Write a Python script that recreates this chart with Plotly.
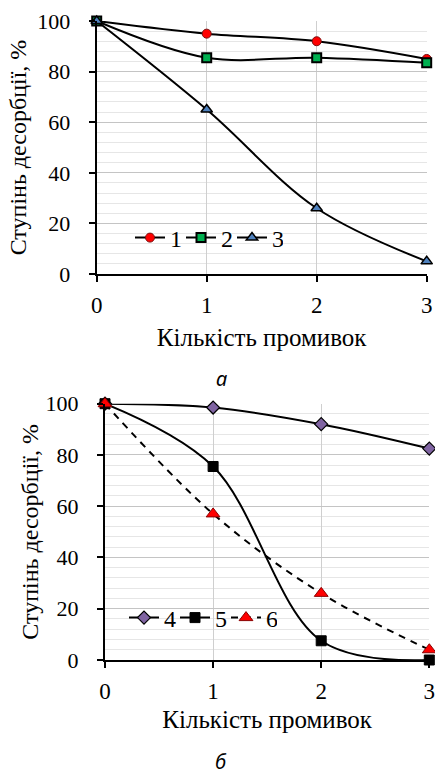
import plotly.graph_objects as go

washes = [0, 1, 2, 3]
x_ticks = ["0", "1", "2", "3"]
s1 = [100, 95, 92, 85]
s2 = [100, 85.5, 85.5, 83.5]
s3 = [100, 65, 26, 5]
s4 = [100, 98.5, 92, 82.5]
s5 = [100, 75.5, 7.5, 0]
s6 = [100, 57, 26, 4]

W, H = 435, 775
FONT = "Liberation Serif, Times New Roman, serif"


def px_x(p):
    return p / W


def px_y(p):
    return 1 - p / H


fig = go.Figure()

line = dict(color="black", width=2, shape="spline")

fig.add_trace(go.Scatter(x=washes, y=s1, name="1", mode="lines+markers", line=line,
                         marker=dict(symbol="circle", size=9, color="#ff0000", line=dict(color="#7a1010", width=1)),
                         xaxis="x", yaxis="y", legend="legend", cliponaxis=False))
fig.add_trace(go.Scatter(x=washes, y=s2, name="2", mode="lines+markers", line=line,
                         marker=dict(symbol="square", size=9, color="#00b050", line=dict(color="black", width=2)),
                         xaxis="x", yaxis="y", legend="legend", cliponaxis=False))
fig.add_trace(go.Scatter(x=washes, y=s3, name="3", mode="lines+markers", line=line,
                         marker=dict(symbol="triangle-up", size=10, color="#4f81bd", line=dict(color="black", width=1.5)),
                         xaxis="x", yaxis="y", legend="legend", cliponaxis=False))

fig.add_trace(go.Scatter(x=washes, y=s4, name="4", mode="lines+markers", line=line,
                         marker=dict(symbol="diamond", size=10, color="#8064a2", line=dict(color="black", width=1.2)),
                         xaxis="x2", yaxis="y2", legend="legend2", cliponaxis=False))
fig.add_trace(go.Scatter(x=washes, y=s5, name="5", mode="lines+markers", line=line,
                         marker=dict(symbol="square", size=10, color="black", line=dict(color="black", width=1)),
                         xaxis="x2", yaxis="y2", legend="legend2", cliponaxis=False))
fig.add_trace(go.Scatter(x=washes, y=s6, name="6", mode="lines+markers",
                         line=dict(color="black", width=2, shape="spline", dash="7px,6px"),
                         marker=dict(symbol="triangle-up", size=12, color="#ff0000", line=dict(color="#8a0000", width=1)),
                         xaxis="x2", yaxis="y2", legend="legend2", cliponaxis=False))

xcommon = dict(range=[0, 3], tickvals=washes, ticktext=x_ticks, showline=True, linecolor="black", linewidth=2,
               ticks="outside", ticklen=6, tickwidth=2, tickcolor="black", ticklabelstandoff=3,
               ticklabeloverflow="allow",
               showgrid=True, gridcolor="#cfcfcf", gridwidth=1, zeroline=False,
               tickfont=dict(family=FONT, size=23, color="black"), automargin=False, fixedrange=True)
ycommon = dict(range=[0, 100], dtick=20, showline=True, linecolor="black", linewidth=2,
               ticks="outside", ticklen=6, tickwidth=2, tickcolor="black", ticklabelstandoff=14,
               ticklabeloverflow="allow",
               showgrid=True, gridcolor="#c4c4c4", gridwidth=1, zeroline=False,
               minor=dict(dtick=4, showgrid=True, gridcolor="#e6e6e6", gridwidth=1, ticks=""),
               tickfont=dict(family=FONT, size=22, color="black"), automargin=False, fixedrange=True)

TITLE_FONT = dict(family=FONT, size=25, color="black")
YTITLE_FONT = dict(family=FONT, size=24, color="black")

fig.update_layout(
    width=W, height=H,
    margin=dict(l=0, r=0, t=0, b=0),
    paper_bgcolor="white", plot_bgcolor="white",
    xaxis=dict(xcommon, domain=[px_x(96.7), px_x(426.7)], anchor="y",
               title=dict(text="Кількість промивок", font=TITLE_FONT, standoff=12)),
    yaxis=dict(ycommon, domain=[px_y(274), px_y(21)], anchor="x",
               title=dict(text="Ступінь десорбції, %", font=YTITLE_FONT, standoff=4)),
    xaxis2=dict(xcommon, domain=[px_x(105), px_x(429.3)], anchor="y2",
                title=dict(text="Кількість промивок", font=TITLE_FONT, standoff=8)),
    yaxis2=dict(ycommon, domain=[px_y(660), px_y(403.7)], anchor="x2",
                title=dict(text="Ступінь десорбції, %", font=YTITLE_FONT, standoff=0)),
    legend=dict(orientation="h", x=px_x(130), y=px_y(238), xanchor="left", yanchor="middle",
                bgcolor="rgba(255,255,255,0)", font=dict(family=FONT, size=24, color="black"),
                itemwidth=30, entrywidth=6, entrywidthmode="pixels", tracegroupgap=0),
    legend2=dict(orientation="h", x=px_x(124), y=px_y(618), xanchor="left", yanchor="middle",
                 bgcolor="rgba(255,255,255,0)", font=dict(family=FONT, size=24, color="black"),
                 itemwidth=30, entrywidth=6, entrywidthmode="pixels", tracegroupgap=0),
    annotations=[
        dict(text="а", x=px_x(221), y=px_y(378), xref="paper", yref="paper", showarrow=False,
             font=dict(family="Noto Sans", size=20, color="black", style="italic"), xanchor="center", yanchor="middle"),
        dict(text="б", x=px_x(221), y=px_y(761), xref="paper", yref="paper", showarrow=False,
             font=dict(family="Noto Sans", size=20, color="black", style="italic"), xanchor="center", yanchor="middle"),
    ],
)

fig.write_html("out.html", config={"displayModeBar": False},
               post_script="document.body.style.margin='0';document.body.style.overflow='hidden';")
